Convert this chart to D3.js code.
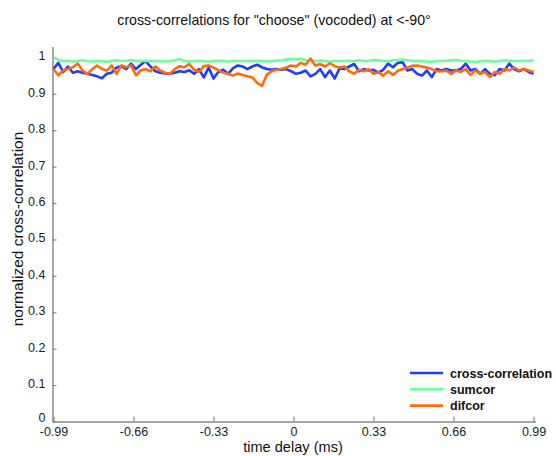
<!DOCTYPE html>
<html><head><meta charset="utf-8">
<script src="https://cdn.jsdelivr.net/npm/d3@7"></script>
<style>body{margin:0;background:#fff}svg{display:block}text{font-family:"Liberation Sans",Arial,sans-serif}</style>
</head><body><svg id="c" width="556" height="456"></svg>
<script>
const seriesNames = ["cross-correlation", "sumcor", "difcor"];
const seriesColors = ["#1f3cff", "#66ff99", "#ff6a10"];
const xTicks = [-0.99, -0.66, -0.33, 0, 0.33, 0.66, 0.99];
const yTicks = [0, 0.1, 0.2, 0.3, 0.4, 0.5, 0.6, 0.7, 0.8, 0.9, 1];
// time lags (ms), step 0.02
const lags = d3.range(100).map(i => +(-0.99 + 0.02 * i).toFixed(2));
const xcorr = [
0.968,0.985,0.96,0.975,0.958,0.962,0.958,0.955,0.952,0.948,0.943,0.955,0.958,0.972,0.976,0.968,0.983,0.968,0.98,0.99,
0.975,0.962,0.958,0.956,0.955,0.958,0.962,0.96,0.965,0.955,0.968,0.945,0.972,0.942,0.96,0.966,0.955,0.97,0.978,0.975,
0.968,0.975,0.98,0.973,0.968,0.966,0.968,0.966,0.968,0.962,0.955,0.958,0.964,0.948,0.955,0.968,0.946,0.964,0.942,0.97,
0.968,0.975,0.982,0.962,0.968,0.964,0.966,0.958,0.966,0.983,0.973,0.985,0.987,0.964,0.968,0.955,0.95,0.964,0.946,0.968,
0.964,0.968,0.964,0.964,0.968,0.983,0.964,0.968,0.955,0.968,0.955,0.951,0.968,0.964,0.983,0.968,0.962,0.968,0.96,0.955];
const sumcor = [
1.0,0.993,0.99,0.991,0.989,0.99,0.992,0.99,0.989,0.991,0.99,0.988,0.99,0.992,0.99,0.991,0.993,0.99,0.991,0.99,
0.99,0.991,0.99,0.989,0.99,0.992,0.996,0.99,0.989,0.99,0.991,0.99,0.988,0.99,0.991,0.99,0.989,0.991,0.99,0.99,
0.99,0.99,0.991,0.99,0.989,0.99,0.991,0.992,0.994,0.996,0.995,0.996,0.993,0.992,0.99,0.991,0.99,0.989,0.99,0.99,
0.99,0.991,0.99,0.992,0.99,0.991,0.993,0.992,0.991,0.99,0.992,0.993,0.994,0.992,0.99,0.991,0.99,0.989,0.988,0.99,
0.99,0.991,0.992,0.993,0.991,0.99,0.989,0.987,0.99,0.991,0.99,0.989,0.99,0.992,0.991,0.99,0.991,0.99,0.991,0.992];
const difcor = [
0.968,0.951,0.964,0.968,0.973,0.983,0.964,0.955,0.968,0.978,0.968,0.964,0.978,0.955,0.978,0.973,0.978,0.951,0.964,0.968,
0.962,0.975,0.964,0.958,0.955,0.968,0.976,0.973,0.982,0.966,0.96,0.976,0.978,0.972,0.965,0.958,0.955,0.95,0.956,0.952,
0.948,0.945,0.93,0.922,0.952,0.962,0.966,0.968,0.972,0.978,0.975,0.985,0.98,0.997,0.978,0.982,0.975,0.984,0.976,0.972,
0.975,0.962,0.955,0.966,0.962,0.968,0.955,0.96,0.95,0.962,0.952,0.963,0.968,0.972,0.977,0.978,0.975,0.972,0.968,0.962,
0.962,0.964,0.955,0.964,0.96,0.968,0.952,0.964,0.955,0.96,0.946,0.96,0.955,0.968,0.964,0.973,0.964,0.968,0.964,0.96];
const seriesValues = [xcorr, sumcor, difcor];

const svg = d3.select("#c");
const x = d3.scaleLinear().domain([-0.994, 0.998]).range([52.5, 535.5]);
const y = d3.scaleLinear().domain([0, 1.03]).range([421.5, 46.5]);
const axisColor = "#888";

const gx = svg.append("g").attr("transform", `translate(0,${y(0)})`)
  .call(d3.axisBottom(x).tickValues(xTicks).tickSizeInner(-5).tickSizeOuter(0).tickPadding(7.5)
    .tickFormat(d => String(d)));
const gy = svg.append("g").attr("transform", `translate(${x.range()[0]},0)`)
  .call(d3.axisLeft(y).tickValues(yTicks).tickSizeInner(-4).tickSizeOuter(0).tickPadding(7)
    .tickFormat(d => String(d)));
[gx, gy].forEach(g => {
  g.select(".domain").attr("stroke", axisColor).attr("stroke-width", 1.5);
  g.selectAll(".tick line").attr("stroke", axisColor).attr("stroke-width", 1.2);
  g.selectAll(".tick text").attr("fill", "#222").style("font-size", "12.5px");
});
gx.selectAll(".tick text").attr("dy", "0.55em");
gy.selectAll(".tick text").attr("dy", d => d === 0 ? "0.02em" : "0.2em");

const line = d3.line().x((d, i) => x(lags[i])).y(d => y(d));
seriesValues.forEach((vals, k) => {
  svg.append("path").datum(vals).attr("d", line)
    .attr("fill", "none").attr("stroke", seriesColors[k]).attr("stroke-width", 2.6)
    .attr("stroke-linejoin", "round");
});

svg.append("text").attr("x", 274).attr("y", 25).attr("text-anchor", "middle")
  .style("font-size", "14.2px").attr("fill", "#111")
  .text('cross-correlations for "choose" (vocoded) at <-90°');
svg.append("text").attr("x", 293).attr("y", 452).attr("text-anchor", "middle")
  .style("font-size", "14.6px").attr("fill", "#111").text("time delay (ms)");
svg.append("text").attr("transform", "translate(23,229) rotate(-90)").attr("text-anchor", "middle")
  .style("font-size", "15.5px").attr("fill", "#111").text("normalized cross-correlation");

const leg = svg.append("g");
seriesNames.forEach((n, k) => {
  const yy = 373 + k * 16.3;
  leg.append("line").attr("x1", 410).attr("x2", 443).attr("y1", yy).attr("y2", yy)
    .attr("stroke", seriesColors[k]).attr("stroke-width", 2.6);
  leg.append("text").attr("x", 450).attr("y", yy + 4.5).style("font-size", "12.5px")
    .style("font-weight", "bold").attr("fill", "#111").text(n);
});
</script></body></html>
